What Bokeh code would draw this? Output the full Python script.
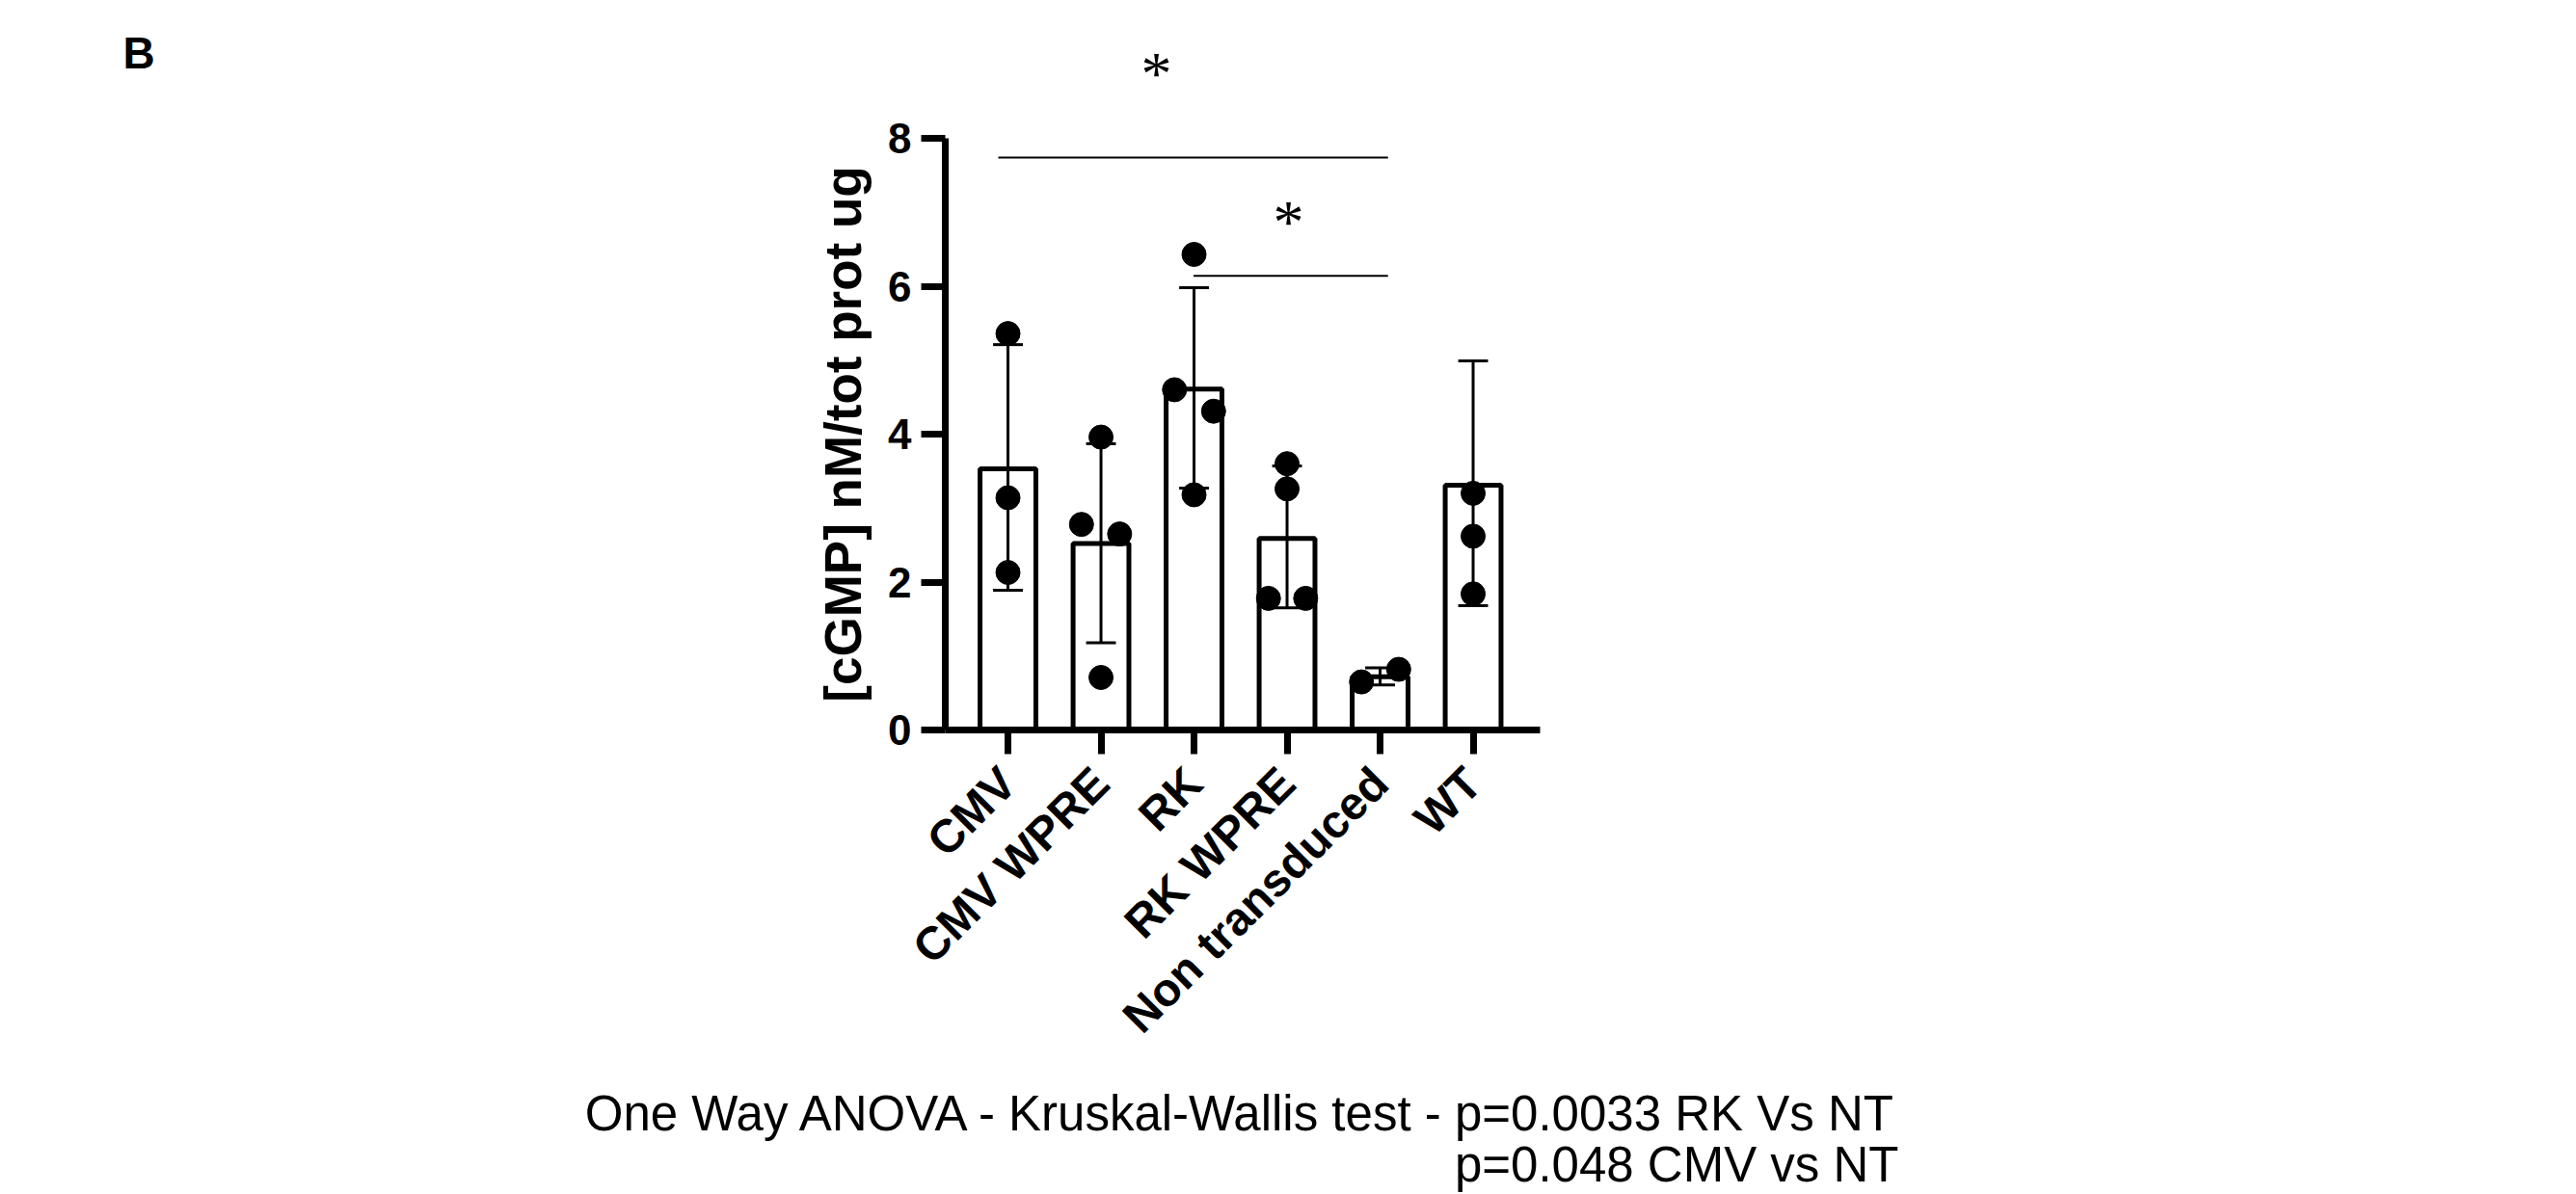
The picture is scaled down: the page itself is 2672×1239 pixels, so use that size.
import math
from bokeh.plotting import figure
from bokeh.layouts import row, column
from bokeh.models import FixedTicker, Label, ColumnDataSource
from bokeh.core.properties import value
from bokeh.embed import file_html
from bokeh.resources import INLINE

# ---------------- data ----------------
categories = ["CMV", "CMV WPRE", "RK", "RK WPRE", "Non transduced", "WT"]
means = [3.53, 2.52, 4.61, 2.59, 0.72, 3.31]
err_upper = [5.21, 3.87, 5.98, 3.57, 0.84, 4.99]
err_lower = [1.89, 1.18, 3.27, 1.65, 0.61, 1.68]

pt_group = [0, 0, 0,
            1, 1, 1, 1,
            2, 2, 2, 2,
            3, 3, 3, 3,
            4, 4,
            5, 5, 5]
pt_value = [5.36, 3.14, 2.13,
            3.96, 2.78, 2.65, 0.71,
            6.43, 4.60, 4.31, 3.18,
            3.60, 3.26, 1.78, 1.78,
            0.65, 0.82,
            3.20, 2.62, 1.84]

y_ticks = [0, 2, 4, 6, 8]
y_title = "[cGMP] nM/tot prot ug"
panel_letter = "B"
stat_line1 = "One Way ANOVA - Kruskal-Wallis test - p=0.0033 RK Vs NT"
stat_line2 = "p=0.048 CMV vs NT"

# ---------------- layout / style ----------------
FONT = "Liberation Sans"
pt_spread = [0, 0, 0,
             0, -0.21, 0.20, 0,
             0, -0.21, 0.21, 0,
             0, 0, -0.20, 0.20,
             -0.20, 0.20,
             0, 0, 0]

TOTAL_W, TOTAL_H = 2670, 1237
LEFT_W = 820               # pane holding the panel letter
UPPER_H = 1125             # height of letter pane + top pane + chart
TOP_H = 113                # pane above the chart (first significance star)
CHART_W = TOTAL_W - LEFT_W
CHART_H = UPPER_H - TOP_H
X_START, X_END = -0.674, 5.72
FRAME_W, FRAME_H = 617, 614
BORDER_L, BORDER_T = 160, 30
FRAME_TOP_PAGE = TOP_H + BORDER_T          # 143
FRAME_LEFT_PAGE = LEFT_W + BORDER_L        # 980


def text_pane(w, h, x_range=None):
    f = figure(width=w, height=h, x_range=x_range or (0, w), y_range=(0, h), title=None,
               x_axis_location=None, y_axis_location=None,
               min_border=0, output_backend="svg", toolbar_location=None)
    f.grid.visible = False
    f.outline_line_color = None
    f.background_fill_color = "white"
    f.border_fill_color = "white"
    return f


def pane_text(f, h, x, py, txt, size, align="left", bold=False, font=FONT):
    # py: vertical position measured from the pane's top edge
    f.text(x=[x], y=[h - py], text=[txt], text_align=align,
           text_baseline="alphabetic", text_font=value(font),
           text_font_size=value(size), text_font_style="bold" if bold else "normal",
           text_color="black")


p = figure(width=CHART_W, height=CHART_H, title=None,
           min_border_left=BORDER_L, min_border_top=BORDER_T,
           min_border_right=CHART_W - BORDER_L - FRAME_W,
           min_border_bottom=CHART_H - BORDER_T - FRAME_H,
           x_range=(X_START, X_END), y_range=(y_ticks[0], y_ticks[-1]),
           output_backend="svg", toolbar_location=None)
p.xgrid.visible = False
p.ygrid.visible = False
p.outline_line_color = None
p.background_fill_color = "white"
p.border_fill_color = "white"


def dx(px):
    return X_START + (px - FRAME_LEFT_PAGE) * (X_END - X_START) / FRAME_W


def dy(py):
    return y_ticks[-1] - (py - FRAME_TOP_PAGE) * (y_ticks[-1] - y_ticks[0]) / FRAME_H


xs = list(range(len(categories)))

# bars
p.vbar(x=xs, top=means, bottom=0, width=0.6, fill_color="white",
       line_color="black", line_width=5)

# error bars
cap = 0.16
p.segment(x0=xs, y0=err_lower, x1=xs, y1=err_upper, line_color="black", line_width=3)
p.segment(x0=[x - cap for x in xs], y0=err_upper, x1=[x + cap for x in xs], y1=err_upper,
          line_color="black", line_width=3)
p.segment(x0=[x - cap for x in xs], y0=err_lower, x1=[x + cap for x in xs], y1=err_lower,
          line_color="black", line_width=3)

# individual points
src = ColumnDataSource(dict(x=[g + s for g, s in zip(pt_group, pt_spread)], y=pt_value))
p.scatter("x", "y", source=src, size=25, fill_color="black", line_color="black")

# significance brackets
p.segment(x0=[-0.104, 1.995], y0=[7.74, 6.14], x1=[4.085, 4.085], y1=[7.74, 6.14],
          line_color="black", line_width=2)

# second asterisk (inside the chart area)
p.add_layout(Label(x=dx(1336), y=dy(230), text="*", text_align="center",
                   text_baseline="alphabetic", text_font="Liberation Serif",
                   text_font_size="64px", text_color="black"))

# axes
yax = p.yaxis[0]
yax.ticker = FixedTicker(ticks=y_ticks)
yax.axis_line_width = 7
yax.major_tick_line_width = 7
yax.major_tick_out = 25
yax.major_tick_in = 0
yax.minor_tick_out = 0
yax.minor_tick_in = 0
yax.major_label_text_font = FONT
yax.major_label_text_font_size = "44px"
yax.major_label_text_font_style = "bold"
yax.major_label_text_color = "black"
yax.major_label_standoff = 10
yax.axis_label = y_title
yax.axis_label_text_font = FONT
yax.axis_label_text_font_size = "53px"
yax.axis_label_text_font_style = "bold"
yax.axis_label_text_color = "black"
yax.axis_label_standoff = 14

xax = p.xaxis[0]
xax.ticker = FixedTicker(ticks=xs)
xax.major_label_overrides = {i: c for i, c in enumerate(categories)}
xax.axis_line_width = 7
xax.major_tick_line_width = 7
xax.major_tick_out = 25
xax.major_tick_in = 0
xax.minor_tick_out = 0
xax.minor_tick_in = 0
xax.major_label_orientation = math.pi / 4
xax.major_label_text_font = FONT
xax.major_label_text_font_size = "48px"
xax.major_label_text_font_style = "bold"
xax.major_label_text_color = "black"
xax.major_label_standoff = 22

# pane above the chart (its frame is aligned with the chart frame): first star
top_pane = text_pane(CHART_W, TOP_H, x_range=(X_START, X_END))
pane_text(top_pane, TOP_H, dx(1199), 76, "*", "64px", align="center",
          font="Liberation Serif")

# panel letter pane (left of the chart)
left_pane = text_pane(LEFT_W, UPPER_H)
pane_text(left_pane, UPPER_H, 127, 54, panel_letter, "46px", bold=True)

# statistics pane (below)
bottom_h = TOTAL_H - UPPER_H
bottom_pane = text_pane(TOTAL_W, bottom_h)
pane_text(bottom_pane, bottom_h, 1969, 1155 - UPPER_H, stat_line1, "51px", align="right")
pane_text(bottom_pane, bottom_h, 1969, 1208 - UPPER_H, stat_line2, "51px", align="right")

layout = column(row(left_pane, column(top_pane, p)), bottom_pane)
open("out.html", "w").write(file_html(layout, INLINE))
